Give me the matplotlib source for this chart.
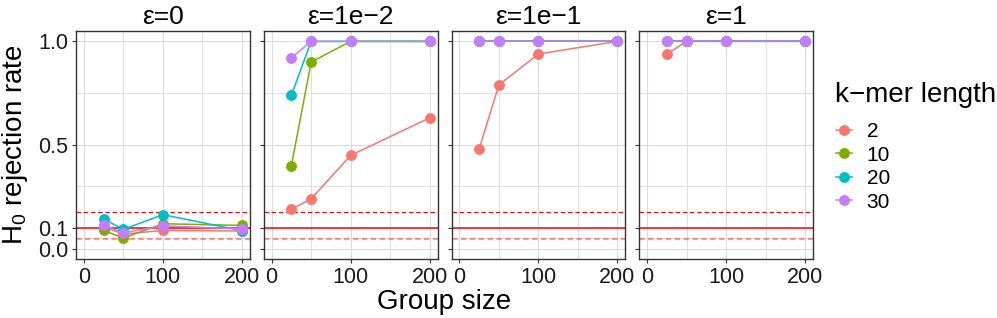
import matplotlib
matplotlib.use("Agg")
import matplotlib.pyplot as plt
from matplotlib.lines import Line2D

plt.rcParams['font.family'] = ['Liberation Sans', 'DejaVu Sans']
plt.rcParams['mathtext.fontset'] = 'custom'
plt.rcParams['mathtext.rm'] = 'Liberation Sans'
plt.rcParams['mathtext.it'] = 'Liberation Sans:italic'

# ---- data ----
group_sizes = [25, 50, 100, 200]
eps_labels = ["ε=0", "ε=1e−2", "ε=1e−1", "ε=1"]
kmer_labels = ["2", "10", "20", "30"]
colors = ["#F8766D", "#7CAE00", "#00BFC4", "#C77CFF"]

eps0_k2 = [0.105, 0.070, 0.088, 0.085]
eps0_k10 = [0.088, 0.051, 0.120, 0.112]
eps0_k20 = [0.143, 0.093, 0.164, 0.087]
eps0_k30 = [0.112, 0.076, 0.110, 0.095]

eps2_k2 = [0.191, 0.240, 0.450, 0.631]
eps2_k10 = [0.401, 0.900, 1.0, 1.0]
eps2_k20 = [0.740, 1.0, 1.0, 1.0]
eps2_k30 = [0.921, 1.0, 1.0, 1.0]

eps1_k2 = [0.481, 0.790, 0.939, 1.0]
eps1_k10 = [1.0, 1.0, 1.0, 1.0]
eps1_k20 = [1.0, 1.0, 1.0, 1.0]
eps1_k30 = [1.0, 1.0, 1.0, 1.0]

epsA_k2 = [0.939, 1.0, 1.0, 1.0]
epsA_k10 = [1.0, 1.0, 1.0, 1.0]
epsA_k20 = [1.0, 1.0, 1.0, 1.0]
epsA_k30 = [1.0, 1.0, 1.0, 1.0]

panels = [
    [eps0_k2, eps0_k10, eps0_k20, eps0_k30],
    [eps2_k2, eps2_k10, eps2_k20, eps2_k30],
    [eps1_k2, eps1_k10, eps1_k20, eps1_k30],
    [epsA_k2, epsA_k10, epsA_k20, epsA_k30],
]

alpha_level = 0.1
upper_bound = 0.177
lower_bound = 0.048

y_ticks = [0.0, 0.1, 0.5, 1.0]
y_ticklabels = ["0.0", "0.1", "0.5", "1.0"]
y_minor = [0.05, 0.3, 0.75]
x_ticks = [0, 100, 200]
x_minor = [50, 150]

# ---- figure ----
W, H = 997, 318
fig = plt.figure(figsize=(W / 100, H / 100), dpi=100)
left, right = 76 / W, 813 / W
bottom, top = (H - 259) / H, (H - 31) / H
gap = 14 / W
pw = (right - left - 3 * gap) / 4

grid_col = "#DBDBDB"
border_col = "#333333"

for i, series in enumerate(panels):
    ax = fig.add_axes([left + i * (pw + gap), bottom, pw, top - bottom])
    ax.set_xlim(-10, 210)
    ax.set_ylim(-0.05, 1.05)
    ax.set_xticks(x_ticks)
    ax.set_xticks(x_minor, minor=True)
    ax.set_yticks(y_ticks)
    ax.set_yticks(y_minor, minor=True)
    ax.grid(True, which='major', color=grid_col, lw=0.8, zorder=0)
    ax.grid(True, which='minor', color=grid_col, lw=0.6, zorder=0)
    ax.set_axisbelow(True)
    for sp in ax.spines.values():
        sp.set_color(border_col)
        sp.set_linewidth(1.0)
    ax.tick_params(which='major', direction='out', length=3, width=0.8,
                   color=border_col, labelsize=15.5, labelcolor='#1a1a1a', pad=2.5)
    ax.tick_params(axis='x', which='major', pad=3)
    ax.tick_params(which='minor', length=0)
    ax.set_xticklabels([str(t) for t in x_ticks])
    if i == 0:
        ax.set_yticklabels(y_ticklabels)
    else:
        ax.set_yticklabels([])

    ax.axhline(alpha_level, color='red', lw=1.1, zorder=1)
    ax.axhline(upper_bound, color='red', lw=0.8, ls=(0, (4, 2.5)), zorder=1)
    ax.axhline(lower_bound, color='red', lw=1.6, alpha=0.4, ls=(0, (2.5, 1.5)), zorder=1)

    for vals, c in zip(series, colors):
        ax.plot(group_sizes, vals, color=c, lw=1.1, zorder=2)
    for vals, c in zip(series, colors):
        ax.plot(group_sizes, vals, ls='none', marker='o', ms=6.8,
                color=c, mec=c, zorder=3)

    ax.set_title(eps_labels[i], fontsize=19, pad=5)

fig.text(15 / W, (bottom + top) / 2, r"H$_\mathregular{0}$ rejection rate",
         rotation=90, ha='center', va='center', fontsize=20)
fig.text((left + right) / 2, 1 - 309 / H, "Group size", ha='center',
         va='baseline', fontsize=20)

fig.text(835 / W, 1 - 95 / H, "k−mer length", ha='left', va='center',
         fontsize=20)

handles = [Line2D([0], [0], color=c, lw=1.1, marker='o', ms=6.8) for c in colors]
leg = fig.legend(handles, kmer_labels, loc='upper left',
                 bbox_to_anchor=(835.7 / W, 1 - 122 / H), frameon=False,
                 fontsize=15, handlelength=0.77, handletextpad=0.72,
                 labelspacing=0.22, borderpad=0, borderaxespad=0)

fig.savefig("out.png", dpi=100)
